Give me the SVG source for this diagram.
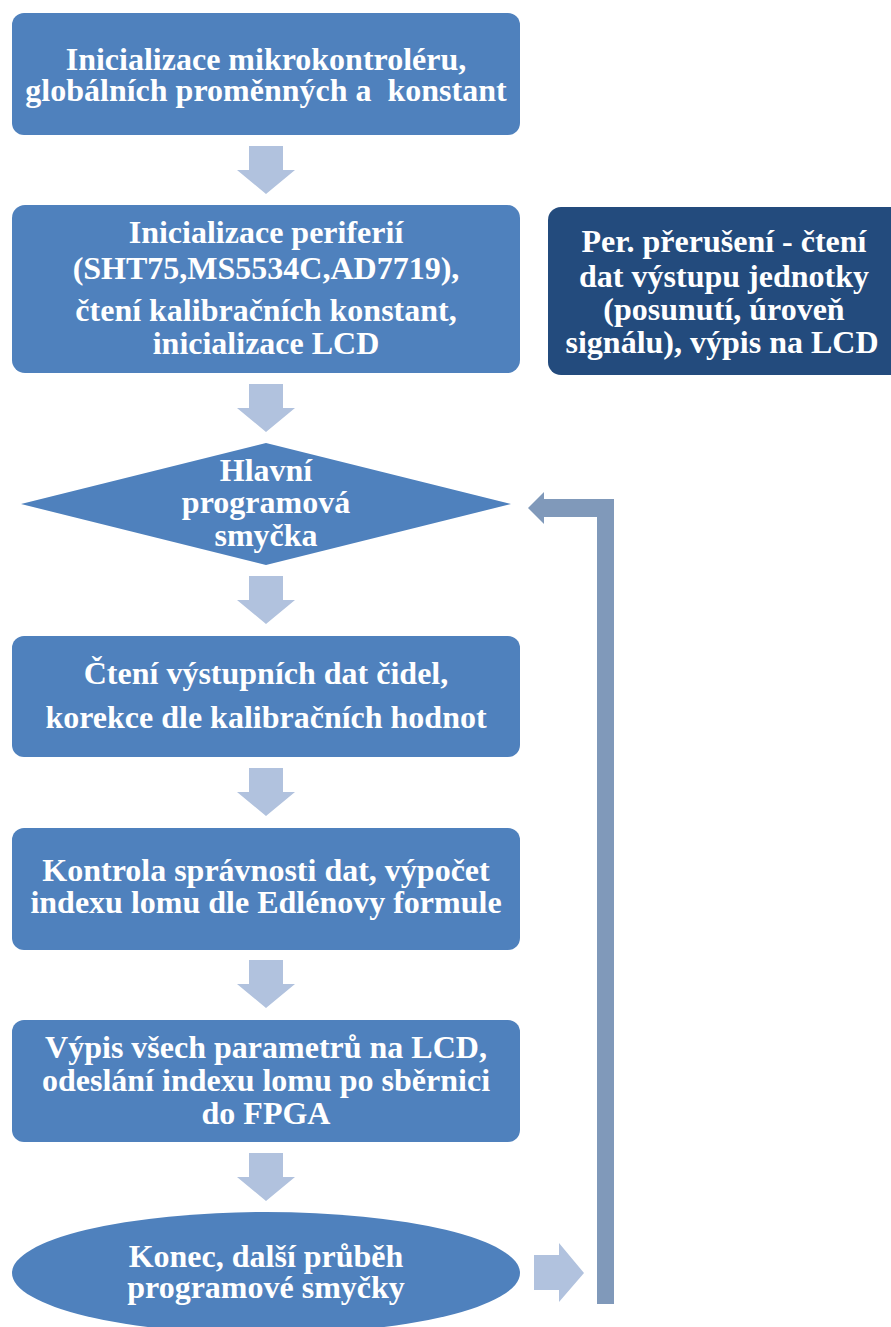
<svg xmlns="http://www.w3.org/2000/svg" width="891" height="1327" viewBox="0 0 891 1327">
  <style>
    .step { fill: #4F81BD; }
    .side { fill: #234B7D; }
    .down { fill: #B1C2DE; }
    .back { fill: #8099BA; }
    .lbl { font-family: 'Liberation Serif', 'DejaVu Serif', serif; font-weight: 700; font-size: 32px; fill: #FFFFFF; text-anchor: middle; }
  </style>
  <defs>
    <!-- block arrow pointing down, tip at origin -->
    <path id="arrowDown" d="M -17 -48 H 17 V -24 H 29 L 0 0 L -29 -24 H -17 Z"/>
  </defs>

  <rect width="891" height="1327" fill="#FFFFFF"/>

  <!-- connectors -->
  <g id="connectors">
    <use href="#arrowDown" class="down" x="266" y="194"/>
    <use href="#arrowDown" class="down" x="266" y="432"/>
    <use href="#arrowDown" class="down" x="266" y="624"/>
    <use href="#arrowDown" class="down" x="266" y="816"/>
    <use href="#arrowDown" class="down" x="266" y="1008"/>
    <use href="#arrowDown" class="down" x="266" y="1201"/>
    <!-- right arrow after the end ellipse -->
    <path class="down" d="M 534 1255 H 559 V 1243 L 584 1273 L 559 1302 V 1290 H 534 Z"/>
    <!-- loop-back arrow to the main loop -->
    <path class="back" d="M 614 1304 V 499 H 544 V 492 L 528 508 L 544 524 V 517 H 597 V 1304 Z"/>
  </g>

  <g font-family="Liberation Serif" font-weight="bold">
  <g id="node-init-mcu">
    <rect class="step" x="12" y="13" width="508" height="122" rx="12"/>
    <text class="lbl" x="266" y="70">Inicializace mikrokontroléru,</text>
    <text class="lbl" x="266" y="101" xml:space="preserve">globálních proměnných a  konstant</text>
  </g>

  <g id="node-init-periph">
    <rect class="step" x="12" y="205" width="508" height="168" rx="13"/>
    <text class="lbl" x="266" y="243">Inicializace periferií</text>
    <text class="lbl" x="266" y="279">(SHT75,MS5534C,AD7719),</text>
    <text class="lbl" x="266" y="321">čtení kalibračních konstant,</text>
    <text class="lbl" x="266" y="354">inicializace LCD</text>
  </g>

  <g id="node-interrupt">
    <rect class="side" x="548" y="207" width="360" height="168" rx="13"/>
    <text class="lbl" x="724" y="252">Per. přerušení - čtení</text>
    <text class="lbl" x="724" y="287">dat výstupu jednotky</text>
    <text class="lbl" x="724" y="320">(posunutí, úroveň</text>
    <text class="lbl" x="722" y="353">signálu), výpis na LCD</text>
  </g>

  <g id="node-main-loop">
    <polygon class="step" points="266,443 511,504 266,565 21,504"/>
    <text class="lbl" x="266" y="481">Hlavní</text>
    <text class="lbl" x="266" y="513">programová</text>
    <text class="lbl" x="266" y="546">smyčka</text>
  </g>

  <g id="node-read-sensors">
    <rect class="step" x="12" y="636" width="508" height="121" rx="12"/>
    <text class="lbl" x="266" y="684">Čtení výstupních dat čidel,</text>
    <text class="lbl" x="266" y="728">korekce dle kalibračních hodnot</text>
  </g>

  <g id="node-check">
    <rect class="step" x="12" y="828" width="508" height="122" rx="12"/>
    <text class="lbl" x="266" y="881">Kontrola správnosti dat, výpočet</text>
    <text class="lbl" x="266" y="913">indexu lomu dle Edlénovy formule</text>
  </g>

  <g id="node-output">
    <rect class="step" x="12" y="1020" width="508" height="122" rx="12"/>
    <text class="lbl" x="266" y="1058">Výpis všech parametrů na LCD,</text>
    <text class="lbl" x="266" y="1091">odeslání indexu lomu po sběrnici</text>
    <text class="lbl" x="266" y="1124">do FPGA</text>
  </g>

  <g id="node-end">
    <ellipse class="step" cx="266" cy="1273" rx="254" ry="61"/>
    <text class="lbl" x="266" y="1267">Konec, další průběh</text>
    <text class="lbl" x="266" y="1298">programové smyčky</text>
  </g>
  </g>
</svg>
